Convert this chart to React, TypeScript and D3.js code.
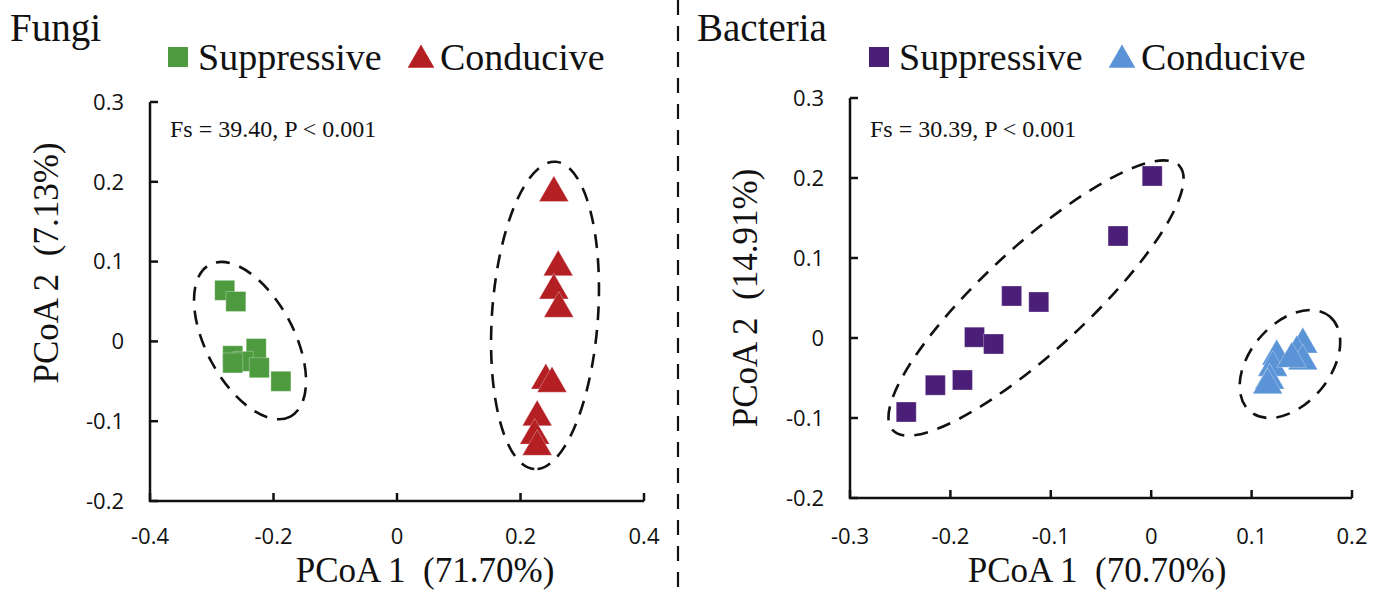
import React from "react";
import * as d3 from "d3";

// ---------- Data ----------
const fungiSuppressive: [number, number][] = [
  [-0.279, 0.064], [-0.261, 0.050], [-0.228, -0.009], [-0.266, -0.018],
  [-0.249, -0.025], [-0.266, -0.027], [-0.223, -0.033], [-0.188, -0.050],
];
const fungiConducive: [number, number][] = [
  [0.254, 0.186], [0.261, 0.093], [0.254, 0.064], [0.262, 0.041],
  [0.241, -0.049], [0.251, -0.053], [0.227, -0.095], [0.223, -0.118], [0.227, -0.132],
];
const bacteriaSuppressive: [number, number][] = [
  [0.001, 0.2025], [-0.033, 0.1275], [-0.139, 0.0525], [-0.112, 0.045],
  [-0.176, 0.001], [-0.157, -0.0075], [-0.215, -0.059], [-0.188, -0.0525], [-0.244, -0.0925],
];
const bacteriaConducive: [number, number][] = [
  [0.125, -0.023], [0.121, -0.037], [0.118, -0.053], [0.116, -0.059],
  [0.151, -0.008], [0.145, -0.018], [0.151, -0.029], [0.140, -0.026],
];

const fungiXTicks = [-0.4, -0.2, 0, 0.2, 0.4];
const bacteriaXTicks = [-0.3, -0.2, -0.1, 0, 0.1, 0.2];
const yTicks = [-0.2, -0.1, 0, 0.1, 0.2, 0.3];

const legendLabels = ["Suppressive", "Conducive"];

// confidence ellipses: centre in data units
const fungiEllipseCenters: [number, number][] = [[-0.238, 0.001], [0.2397, 0.0326]];
const bacteriaEllipseCenters: [number, number][] = [[-0.1147, 0.05], [0.1382, -0.0325]];

// ---------- Layout ----------
const W = 1378, H = 592;
const serif = "'Liberation Serif', 'Times New Roman', serif";
const sans = "'Open Sans', 'Noto Sans', sans-serif";

interface PanelCfg {
  title: string;
  titleX: number;
  xDomain: [number, number];
  xRange: [number, number];
  yRange: [number, number];
  xTicks: number[];
  supp: [number, number][];
  cond: [number, number][];
  suppColor: string;
  condColor: string;
  stat: string;
  xTitle: string;
  xTitleX: number;
  yTitle: string;
  yTitleX: number;
  yTitleY: number;
  legendX: number;
  ellCenters: [number, number][];
  ellShape: { a: number; b: number; angle: number }[];
}

const panels: PanelCfg[] = [
  {
    title: "Fungi", titleX: 10,
    xDomain: [-0.4, 0.4], xRange: [150, 644], yRange: [501, 102],
    xTicks: fungiXTicks, supp: fungiSuppressive, cond: fungiConducive,
    suppColor: "#4d9a3f", condColor: "#b41f24",
    stat: "Fs = 39.40, P < 0.001",
    xTitle: "PCoA 1  (71.70%)", xTitleX: 425,
    yTitle: "PCoA 2  (7.13%)", yTitleX: 58, yTitleY: 263,
    legendX: 168,
    ellCenters: fungiEllipseCenters,
    ellShape: [{ a: 86, b: 44, angle: 62 }, { a: 154, b: 53, angle: 94 }],
  },
  {
    title: "Bacteria", titleX: 697,
    xDomain: [-0.3, 0.2], xRange: [850, 1352], yRange: [498, 98],
    xTicks: bacteriaXTicks, supp: bacteriaSuppressive, cond: bacteriaConducive,
    suppColor: "#4b1e78", condColor: "#5a93d6",
    stat: "Fs = 30.39, P < 0.001",
    xTitle: "PCoA 1  (70.70%)", xTitleX: 1097,
    yTitle: "PCoA 2  (14.91%)", yTitleX: 757, yTitleY: 298,
    legendX: 869,
    ellCenters: bacteriaEllipseCenters,
    ellShape: [{ a: 195, b: 52, angle: -42.7 }, { a: 62, b: 40, angle: -50 }],
  },
];

const squarePath = d3.symbol().type(d3.symbolSquare).size(400)() as string;
const trianglePath = d3.symbol().type(d3.symbolTriangle).size(380)() as string;

function Panel({ p }: { p: PanelCfg }) {
  const x = d3.scaleLinear().domain(p.xDomain).range(p.xRange);
  const y = d3.scaleLinear().domain([-0.2, 0.3]).range(p.yRange);
  const [x0, x1] = p.xRange;
  const [yb, yt] = p.yRange;
  const tick = 8;
  const fmt = (v: number) => String(v);
  return (
    <g>
      <text x={p.titleX} y={41} fontFamily={serif} fontSize={39} fill="#111">{p.title}</text>
      {/* legend */}
      <path d={squarePath} transform={`translate(${p.legendX + 10},57)`} fill={p.suppColor} />
      <text x={p.legendX + 30} y={70} fontFamily={serif} fontSize={38} fill="#111">{legendLabels[0]}</text>
      <path d={trianglePath} transform={`translate(${p.legendX + 253},60) scale(0.9)`} fill={p.condColor} />
      <text x={p.legendX + 272} y={70} fontFamily={serif} fontSize={38} fill="#111">{legendLabels[1]}</text>

      {/* axes */}
      <path d={`M${x0},${yt}V${yb}H${x1}`} fill="none" stroke="#111" strokeWidth={2.5} />
      {yTicks.map((t) => (
        <g key={"y" + t}>
          <line x1={x0} x2={x0 + tick} y1={y(t)} y2={y(t)} stroke="#111" strokeWidth={2.5} />
          <text x={x0 - 26} y={y(t)} dy="0.35em" textAnchor="end" fontFamily={sans} fontSize={22} fill="#111">{fmt(t)}</text>
        </g>
      ))}
      {p.xTicks.map((t) => (
        <g key={"x" + t}>
          <line x1={x(t)} x2={x(t)} y1={yb} y2={yb - tick} stroke="#111" strokeWidth={2.5} />
          <text x={x(t)} y={544} textAnchor="middle" fontFamily={sans} fontSize={22} fill="#111">{fmt(t)}</text>
        </g>
      ))}
      <text x={x0 + 20} y={137} fontFamily={serif} fontSize={24} fill="#111">{p.stat}</text>
      <text x={p.xTitleX} y={582} textAnchor="middle" fontFamily={serif} fontSize={35} fill="#111" style={{ whiteSpace: "pre" }}>{p.xTitle}</text>
      <text transform={`translate(${p.yTitleX},${p.yTitleY}) rotate(-90)`} textAnchor="middle" fontFamily={serif} fontSize={35} fill="#111" style={{ whiteSpace: "pre" }}>{p.yTitle}</text>

      {/* ellipses */}
      {p.ellCenters.map((c, i) => (
        <ellipse key={"e" + i} cx={0} cy={0} rx={p.ellShape[i].a} ry={p.ellShape[i].b}
          transform={`translate(${x(c[0])},${y(c[1])}) rotate(${p.ellShape[i].angle})`}
          fill="none" stroke="#111" strokeWidth={2.6} strokeDasharray="14 10" />
      ))}

      {/* points */}
      {p.supp.map((d, i) => (
        <path key={"s" + i} d={squarePath} transform={`translate(${x(d[0])},${y(d[1])})`} fill={p.suppColor} stroke="#ffffff" strokeOpacity={0.5} strokeWidth={0.6} />
      ))}
      {p.cond.map((d, i) => (
        <path key={"c" + i} d={trianglePath} transform={`translate(${x(d[0])},${y(d[1])})`} fill={p.condColor} stroke="#ffffff" strokeOpacity={0.5} strokeWidth={0.6} />
      ))}
    </g>
  );
}

export default function App() {
  return (
    <svg width={W} height={H} viewBox={`0 0 ${W} ${H}`} style={{ position: "absolute", left: 0, top: 0, background: "#fff" }}>
      <rect width={W} height={H} fill="#fff" />
      <line x1={678} x2={678} y1={0} y2={H} stroke="#111" strokeWidth={2.2} strokeDasharray="15 11" />
      {panels.map((p) => <Panel key={p.title} p={p} />)}
    </svg>
  );
}
